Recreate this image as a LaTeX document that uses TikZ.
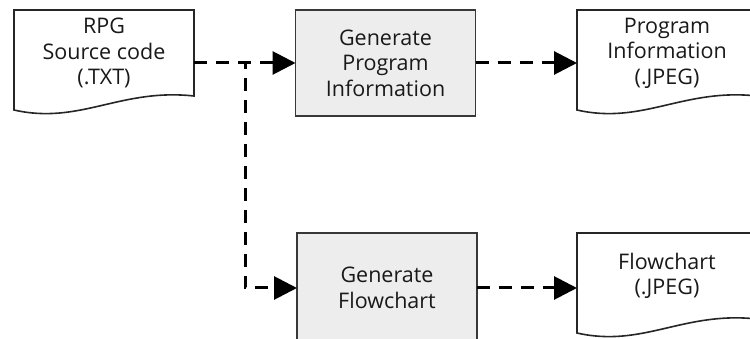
\documentclass[tikz,border=0pt]{standalone}
\usepackage{fontspec}
\setmainfont{Open Sans}
\usetikzlibrary{arrows.meta,positioning}

\tikzset{
  frame/.style={minimum width=180pt, minimum height=106pt, inner sep=0pt, outer sep=0pt},
  procbox/.style={frame, draw=black!78, line width=1.8pt, fill=black!7},
  docline/.style={draw=black!85, line width=1.6pt, fill=white},
  lbl/.style={align=center, font=\fontsize{21.5}{25.5}\selectfont, text=black!90, inner sep=0pt},
  flow/.style={line width=3pt, dash pattern=on 13pt off 9pt,
    -{Triangle[length=23pt, width=23pt]}},
}

% document symbol with a wavy lower edge, drawn on a frame node
\newcommand{\docoutline}[1]{%
  \draw[docline] (#1.north west) -- (#1.north east) -- ++(0,86)
    .. controls +(-74,-8) and +(66,15) .. ++(-180,14) -- cycle;}

\begin{document}
\begin{tikzpicture}[x=1pt, y=-1pt]
  \useasboundingbox (0,0) rectangle (750,339);
  \clip (0,0) rectangle (750,339);

  % frames of the three documents and the two process steps
  \node[frame] (src)  at (104,63) {};
  \node[frame] (info) at (667,63) {};
  \node[frame] (flow) at (667,286) {};
  \node[procbox] (genA) at (385.5,63) {};
  \node[procbox, minimum height=110pt] (genB) at (387,288) {};

  \docoutline{src}
  \docoutline{info}
  \docoutline{flow}

  % labels
  \node[lbl] at (104,53) {RPG\\Source code\\(.TXT)};
  \node[lbl] at (385.5,63) {Generate\\Program\\Information};
  \node[lbl] at (667,53) {Program\\Information\\(.JPEG)};
  \node[lbl] at (387,288) {Generate\\Flowchart};
  \node[lbl] at (667,276) {Flowchart\\(.JPEG)};

  % data flow
  \draw[flow] (src.east) -- (genA.west);
  \draw[flow] (src.east) -- ++(51,0) |- (genB.west);
  \draw[flow] (genA.east) -- (info.west);
  \draw[flow] (genB.east) -- (flow.west |- genB.east);
\end{tikzpicture}
\end{document}
